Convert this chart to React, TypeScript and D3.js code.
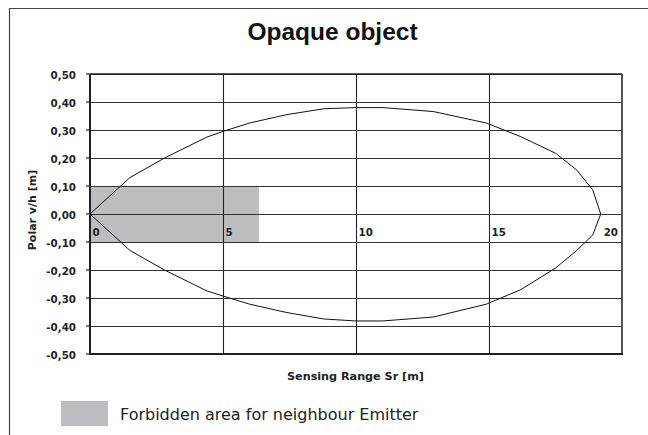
import React, { useEffect, useRef } from "react";
import * as d3 from "d3";

// sensing range [m] along the lobe
const rangeM = [0, 1.5, 2.8, 4.4, 5, 6, 7.4, 8.8, 10, 11, 12.9, 14.9, 16.2, 17.5, 18.3, 18.9, 19.2];
// polar v/h [m], upper and lower edge of the lobe
const upperM = [0, 0.13, 0.2, 0.275, 0.295, 0.325, 0.355, 0.376, 0.38, 0.38, 0.366, 0.325, 0.276, 0.217, 0.157, 0.086, 0];
const lowerM = [0, -0.13, -0.2, -0.275, -0.293, -0.322, -0.352, -0.375, -0.382, -0.382, -0.368, -0.322, -0.27, -0.193, -0.13, -0.075, 0];
// forbidden area for neighbour emitter: [range end, half height]
const forbidden = [6.35, 0.1];
const xTicks = [0, 5, 10, 15, 20];
const yTicks = [0.5, 0.4, 0.3, 0.2, 0.1, 0, -0.1, -0.2, -0.3, -0.4, -0.5];

const W = 648, H = 435;

export default function App() {
  const ref = useRef<SVGSVGElement>(null);

  useEffect(() => {
    const svg = d3.select(ref.current);
    svg.selectAll("*").remove();

    const margin = { top: 74, right: 26, bottom: 81, left: 90 };
    const x = d3.scaleLinear().domain([0, 20]).range([margin.left, W - margin.right]);
    const y = d3.scaleLinear().domain([-0.5, 0.5]).range([H - margin.bottom, margin.top]);
    const font = "'DejaVu Sans', Verdana, sans-serif";
    const titleFont = "'Liberation Sans', Arial, Helvetica, sans-serif";

    svg.append("rect").attr("width", W).attr("height", H).attr("fill", "#fff");

    // outer frame (top and left)
    svg.append("path")
      .attr("d", `M9.5,${H} V8.5 H${W}`)
      .attr("fill", "none").attr("stroke", "#444").attr("stroke-width", 1.2);

    svg.append("text")
      .attr("x", 332.5).attr("y", 40)
      .attr("text-anchor", "middle")
      .attr("font-family", titleFont).attr("font-weight", "bold").attr("font-size", 24.5)
      .attr("fill", "#111")
      .text("Opaque object");

    // forbidden area
    svg.append("rect")
      .attr("x", x(0)).attr("y", y(forbidden[1]))
      .attr("width", x(forbidden[0]) - x(0))
      .attr("height", y(-forbidden[1]) - y(forbidden[1]))
      .attr("fill", "#bcbdc0");

    // grid
    const g = svg.append("g");
    g.selectAll("line.h").data(yTicks).join("line")
      .attr("x1", x(0)).attr("x2", x(20))
      .attr("y1", d => Math.round(y(d)) + 0.5).attr("y2", d => Math.round(y(d)) + 0.5)
      .attr("stroke", "#333").attr("stroke-width", 1.1);
    g.selectAll("line.v").data(xTicks.slice(1, -1)).join("line")
      .attr("x1", d => Math.round(x(d)) + 0.5).attr("x2", d => Math.round(x(d)) + 0.5)
      .attr("y1", y(0.5)).attr("y2", y(-0.5))
      .attr("stroke", "#222").attr("stroke-width", 1.1);

    // plot border
    svg.append("line").attr("x1", x(20)).attr("x2", x(20)).attr("y1", y(0.5)).attr("y2", y(-0.5))
      .attr("stroke", "#555").attr("stroke-width", 2);
    svg.append("line").attr("x1", x(0)).attr("x2", x(20)).attr("y1", y(0.5)).attr("y2", y(0.5))
      .attr("stroke", "#222").attr("stroke-width", 1.3);
    svg.append("line").attr("x1", x(0) - 1).attr("x2", x(20) + 1).attr("y1", y(-0.5)).attr("y2", y(-0.5))
      .attr("stroke", "#222").attr("stroke-width", 2);
    svg.append("line").attr("x1", x(0)).attr("x2", x(0)).attr("y1", y(0.5)).attr("y2", y(-0.5) + 1)
      .attr("stroke", "#222").attr("stroke-width", 2);

    // y axis ticks
    const fmt = (d: number) => d3.format(".2f")(d).replace(".", ",").replace("−", "-");
    const ya = svg.append("g");
    ya.selectAll("line").data(yTicks).join("line")
      .attr("x1", x(0) - 4).attr("x2", x(0))
      .attr("y1", d => y(d)).attr("y2", d => y(d))
      .attr("stroke", "#222").attr("stroke-width", 1.2);
    ya.selectAll("text").data(yTicks).join("text")
      .attr("x", x(0) - 14).attr("y", d => y(d) + 4.7)
      .attr("text-anchor", "end")
      .attr("font-family", font).attr("font-weight", "bold").attr("font-size", 10.3)
      .attr("fill", "#222")
      .text(d => fmt(d));

    // x tick labels sit inside the plot under the zero line
    svg.append("g").selectAll("text").data(xTicks).join("text")
      .attr("x", d => (d === 20 ? x(d) - 4 : x(d) + 2.5))
      .attr("y", y(0) + 22)
      .attr("text-anchor", d => (d === 20 ? "end" : "start"))
      .attr("font-family", font).attr("font-weight", "bold").attr("font-size", 10.3)
      .attr("fill", "#222")
      .text(d => String(d));

    // lobe
    const pts: [number, number][] = [
      ...rangeM.map((r, i) => [r, upperM[i]] as [number, number]),
      ...rangeM.map((r, i) => [r, lowerM[i]] as [number, number]).reverse(),
    ];
    const line = d3.line<[number, number]>().x(d => x(d[0])).y(d => y(d[1]));
    svg.append("path")
      .attr("d", line(pts))
      .attr("fill", "none").attr("stroke", "#111").attr("stroke-width", 1);

    // axis titles
    svg.append("text")
      .attr("x", 355.5).attr("y", 380)
      .attr("text-anchor", "middle")
      .attr("font-family", font).attr("font-weight", "bold").attr("font-size", 11.2)
      .attr("fill", "#222")
      .text("Sensing Range Sr [m]");
    svg.append("text")
      .attr("transform", `translate(36,210) rotate(-90)`)
      .attr("text-anchor", "middle")
      .attr("font-family", font).attr("font-weight", "bold").attr("font-size", 11)
      .attr("fill", "#222")
      .text("Polar v/h [m]");

    // legend
    svg.append("rect").attr("x", 61).attr("y", 401).attr("width", 47).attr("height", 25).attr("fill", "#bcbdc0");
    svg.append("text")
      .attr("x", 120).attr("y", 420)
      .attr("font-family", font).attr("font-size", 16)
      .attr("fill", "#222")
      .text("Forbidden area for neighbour Emitter");
  }, []);

  return (
    <div style={{ position: "absolute", left: 0, top: 0 }}>
      <svg ref={ref} width={W} height={H} style={{ display: "block" }} />
    </div>
  );
}
